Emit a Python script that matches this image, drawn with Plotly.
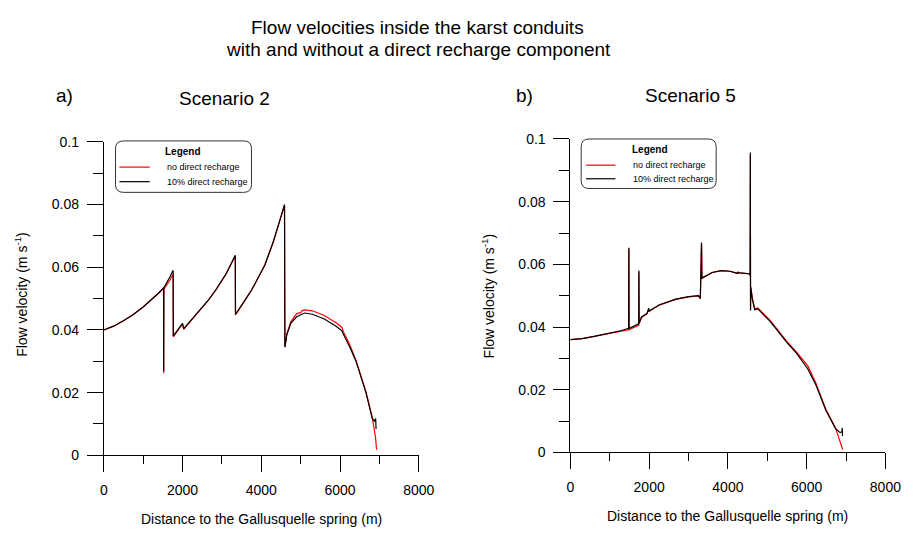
import plotly.graph_objects as go

W, H = 919, 538

# Scenario 2 - distance along conduit (m) and flow velocity (m/s)
s2_x_nodr = [0, 250, 500, 750, 1000, 1250, 1400, 1520, 1522, 1525, 1650, 1760, 1762, 1765, 1900, 2000,
             2030, 2200, 2435, 2650, 2850, 3100, 3340, 3342, 3345, 3550, 3760, 4090, 4300, 4450,
             4590, 4600, 4650, 4750, 4900, 5000, 5040, 5100, 5300, 5600, 5900, 6050, 6080, 6250,
             6410, 6660, 6820, 6900, 6930]
s2_v_nodr = [0.0400, 0.0412, 0.0429, 0.0449, 0.0473, 0.0501, 0.0518, 0.0533, 0.0262, 0.0530, 0.0553,
             0.0577, 0.0577, 0.0378, 0.0400, 0.0419, 0.0402, 0.0427, 0.0461, 0.0494, 0.0528, 0.0577,
             0.0636, 0.0636, 0.0448, 0.0487, 0.0528, 0.0606, 0.0679, 0.0740, 0.0798, 0.0346, 0.0388,
             0.0426, 0.0452, 0.0455, 0.0462, 0.0464, 0.0461, 0.0446, 0.0423, 0.0408, 0.0396, 0.0352,
             0.0302, 0.0202, 0.0120, 0.0058, 0.0018]

s2_x_dr10 = [0, 250, 500, 750, 1000, 1250, 1400, 1520, 1522, 1525, 1650, 1760, 1762, 1765, 1900, 2000,
             2030, 2200, 2435, 2650, 2850, 3100, 3340, 3342, 3345, 3550, 3760, 4090, 4300, 4450,
             4590, 4600, 4650, 4750, 4900, 5100, 5300, 5600, 5900, 6050, 6080, 6250, 6400, 6660,
             6820, 6870, 6905, 6915]
s2_v_dr10 = [0.0400, 0.0412, 0.0429, 0.0449, 0.0473, 0.0501, 0.0518, 0.0535, 0.0268, 0.0535, 0.0562,
             0.0590, 0.0590, 0.0381, 0.0402, 0.0421, 0.0404, 0.0428, 0.0462, 0.0494, 0.0529, 0.0578,
             0.0638, 0.0638, 0.0450, 0.0488, 0.0529, 0.0607, 0.0680, 0.0741, 0.0800, 0.0345, 0.0385,
             0.0421, 0.0442, 0.0454, 0.0450, 0.0435, 0.0412, 0.0397, 0.0388, 0.0345, 0.0302, 0.0199,
             0.0117, 0.0109, 0.0117, 0.0084]

# Scenario 5
s5_x_nodr = [0, 300, 604, 1019, 1300, 1480, 1485, 1490, 1600, 1735, 1740, 1745, 1805, 1945, 1990, 2000,
             2261, 2675, 3000, 3255, 3300, 3330, 3340, 3600, 3834, 4050, 4248, 4260, 4300, 4540,
             4565, 4570, 4575, 4580, 4620, 4680, 4760, 4850, 5077, 5250, 5490, 5750, 6000, 6030,
             6236, 6485, 6733, 6840, 6915]
s5_v_nodr = [0.0360, 0.0363, 0.0370, 0.0380, 0.0387, 0.0391, 0.0650, 0.0391, 0.0398, 0.0405, 0.0575,
             0.0410, 0.0430, 0.0442, 0.0457, 0.0450, 0.0470, 0.0488, 0.0496, 0.0499, 0.0490, 0.0665,
             0.0556, 0.0574, 0.0580, 0.0578, 0.0571, 0.0575, 0.0573, 0.0570, 0.0565, 0.0950, 0.0455,
             0.0526, 0.0492, 0.0458, 0.0461, 0.0450, 0.0420, 0.0393, 0.0355, 0.0319, 0.0280, 0.0276,
             0.0221, 0.0138, 0.0078, 0.0035, 0.0009]

s5_x_dr10 = [0, 300, 604, 1019, 1300, 1480, 1485, 1490, 1600, 1735, 1740, 1745, 1805, 1945, 1990, 2000,
             2261, 2675, 3000, 3255, 3300, 3330, 3340, 3600, 3834, 4050, 4248, 4260, 4300, 4540,
             4565, 4570, 4575, 4580, 4620, 4680, 4760, 4850, 5077, 5250, 5490, 5750, 6000, 6030,
             6236, 6485, 6733, 6850, 6895, 6905, 6910]
s5_v_dr10 = [0.0360, 0.0363, 0.0370, 0.0381, 0.0389, 0.0396, 0.0653, 0.0396, 0.0402, 0.0410, 0.0580,
             0.0412, 0.0432, 0.0443, 0.0460, 0.0451, 0.0471, 0.0489, 0.0497, 0.0500, 0.0492, 0.0670,
             0.0556, 0.0574, 0.0580, 0.0578, 0.0571, 0.0575, 0.0573, 0.0570, 0.0565, 0.0957, 0.0453,
             0.0528, 0.0490, 0.0455, 0.0458, 0.0447, 0.0417, 0.0390, 0.0352, 0.0315, 0.0274, 0.0266,
             0.0215, 0.0135, 0.0076, 0.0063, 0.0066, 0.0078, 0.0052]

x_tickvals = [0, 2000, 4000, 6000, 8000]
x_ticktext = ["0", "2000", "4000", "6000", "8000"]
y_tickvals = [0, 0.02, 0.04, 0.06, 0.08, 0.1]
y_ticktext = ["0", "0.02", "0.04", "0.06", "0.08", "0.1"]

series_names = ["no direct recharge", "10% direct recharge"]
series_colors = ["#ff0000", "#000000"]

FONT = "Liberation Sans, Arial, sans-serif"


def px(x, y):
    """Pixel position on the page -> paper coordinates."""
    return x / W, 1 - y / H


fig = go.Figure()

panels = [
    dict(xa="x", ya="y", data=[(s2_x_nodr, s2_v_nodr), (s2_x_dr10, s2_v_dr10)]),
    dict(xa="x2", ya="y2", data=[(s5_x_nodr, s5_v_nodr), (s5_x_dr10, s5_v_dr10)]),
]
for p in panels:
    for (xs, vs), name, col in zip(p["data"], series_names, series_colors):
        fig.add_trace(go.Scatter(x=xs, y=vs, mode="lines", name=name,
                                 line=dict(color=col, width=1.2), showlegend=False,
                                 xaxis=p["xa"], yaxis=p["ya"]))

axis_common = dict(showline=True, linecolor="#000", linewidth=1, ticks="outside",
                   tickcolor="#000", ticklen=16, tickwidth=1, showgrid=False, zeroline=False,
                   tickfont=dict(family=FONT, size=14, color="#000"))

x_dom_a = [102 / W, 424 / W]
y_dom_a = [1 - 461 / H, 1 - 138 / H]
x_dom_b = [579 / W, 901 / W]
y_dom_b = [1 - 458 / H, 1 - 135 / H]

xaxis_kw = dict(range=[0, 8000], tickmode="array", tickvals=x_tickvals, ticktext=x_ticktext,
                minor=dict(ticks="outside", ticklen=8, dtick=1000, tickcolor="#000"),
                ticklabelstandoff=6, **axis_common)
yaxis_kw = dict(range=[0, 0.1], tickmode="array", tickvals=y_tickvals, ticktext=y_ticktext,
                minor=dict(ticks="outside", ticklen=10, dtick=0.01, tickcolor="#000"),
                ticklabelstandoff=5, **axis_common)

fig.update_layout(
    width=W, height=H, margin=dict(l=0, r=0, t=0, b=0),
    paper_bgcolor="white", plot_bgcolor="white",
    xaxis=dict(domain=x_dom_a, anchor="y", **xaxis_kw),
    yaxis=dict(domain=y_dom_a, anchor="x", **yaxis_kw),
    xaxis2=dict(domain=x_dom_b, anchor="y2", **xaxis_kw),
    yaxis2=dict(domain=y_dom_b, anchor="x2", **yaxis_kw),
)

annotations = []


def text(x, y, s, size, anchor="center", angle=0, bold=False):
    ax, ay = px(x, y)
    annotations.append(dict(xref="paper", yref="paper", x=ax, y=ay, text=f"<b>{s}</b>" if bold else s,
                            showarrow=False, xanchor=anchor, yanchor="middle", textangle=angle,
                            font=dict(family=FONT, size=size, color="#000")))


text(423, 20, "Flow velocities inside the karst conduits", 19)
text(424, 43, "with and without a direct recharge component", 19)
text(62, 90, "a)", 19)
text(225, 93, "Scenario 2", 19)
text(532, 90, "b)", 19)
text(702, 90, "Scenario 5", 19)

ylabel = "Flow velocity (m s<sup>-1</sup>)"
text(18, 295, ylabel, 14, angle=-90)
text(495, 297, ylabel, 14, angle=-90)
xlabel = "Distance to the Gallusquelle spring (m)"
text(263, 527, xlabel, 14)
text(740, 524, xlabel, 14)

shapes = []


def rounded_box(x0, y0, x1, y1, r):
    a0x, top = px(x0, y0)
    a1x, bot = px(x1, y1)
    rx, ry = r / W, r / H
    path = (f"M{a0x + rx},{top} L{a1x - rx},{top} Q{a1x},{top} {a1x},{top - ry} "
            f"L{a1x},{bot + ry} Q{a1x},{bot} {a1x - rx},{bot} L{a0x + rx},{bot} "
            f"Q{a0x},{bot} {a0x},{bot + ry} L{a0x},{top - ry} Q{a0x},{top} {a0x + rx},{top} Z")
    shapes.append(dict(type="path", xref="paper", yref="paper", path=path,
                       line=dict(color="#333", width=1), fillcolor="white", layer="below"))


def legend_block(bx0, by0, bx1, by1, title_y, row_ys, line_x0, line_x1, text_x, title_x):
    rounded_box(bx0, by0, bx1, by1, 8)
    text(title_x, title_y, "Legend", 10, bold=True)
    for ry, name, col in zip(row_ys, series_names, series_colors):
        lx0, ly = px(line_x0, ry)
        lx1, _ = px(line_x1, ry)
        shapes.append(dict(type="line", xref="paper", yref="paper", x0=lx0, x1=lx1, y0=ly, y1=ly,
                           line=dict(color=col, width=1.2)))
        text(text_x, ry, name, 9, anchor="left")


legend_block(114, 137, 253, 190, 148, [164, 179], 118, 149, 165, 183)
legend_block(590, 135, 728, 186, 146, [162, 176], 595, 625, 641, 660)

fig.update_layout(annotations=annotations, shapes=shapes)
fig.write_html("out.html")
